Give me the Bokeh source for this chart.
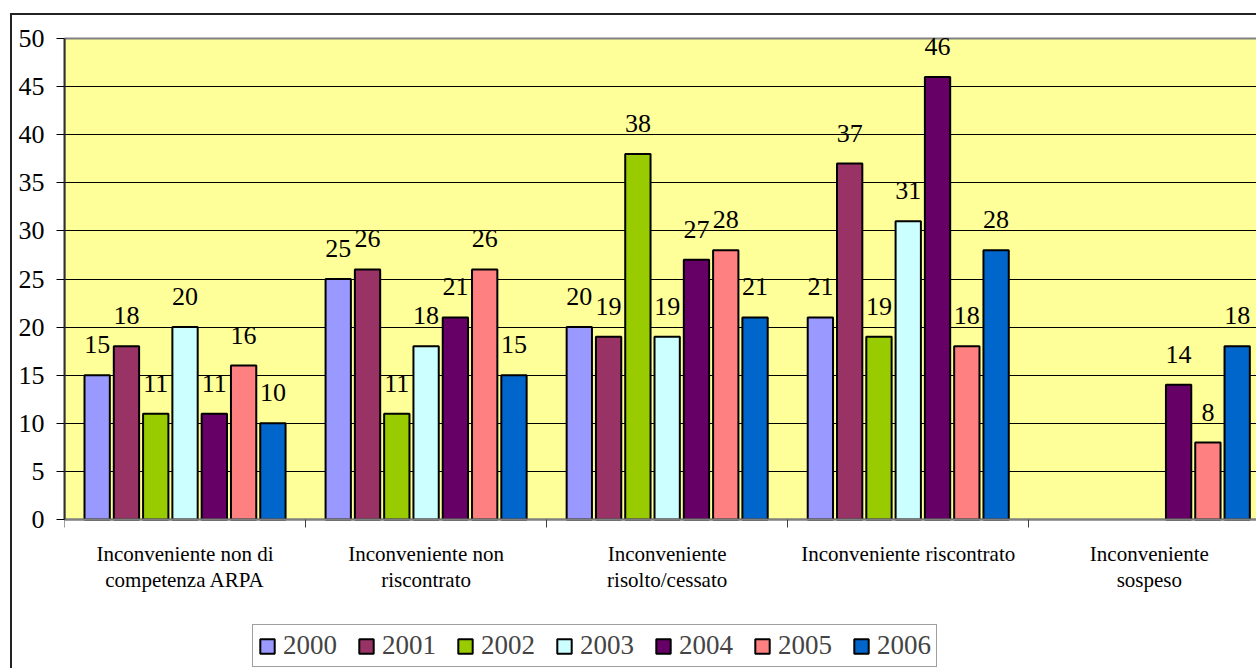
import math
from bokeh.plotting import figure
from bokeh.models import (Range1d, FixedTicker, Legend, LegendItem, LabelSet,
                          ColumnDataSource)
from bokeh.core.properties import value
from bokeh.embed import file_html
from bokeh.resources import INLINE

# ---------------- data ----------------
category_labels = [
    "Inconveniente non di\ncompetenza ARPA",
    "Inconveniente non\nriscontrato",
    "Inconveniente\nrisolto/cessato",
    "Inconveniente riscontrato",
    "Inconveniente\nsospeso",
]
years = ["2000", "2001", "2002", "2003", "2004", "2005", "2006"]
nan = float("nan")
v2000 = [15, 25, 20, 21, nan]
v2001 = [18, 26, 19, 37, nan]
v2002 = [11, 11, 38, 19, nan]
v2003 = [20, 18, 19, 31, nan]
v2004 = [11, 21, 27, 46, 14]
v2005 = [16, 26, 28, 18, 8]
v2006 = [10, 15, 21, 28, 18]
series = [v2000, v2001, v2002, v2003, v2004, v2005, v2006]
colors = ["#9999FF", "#993366", "#99CC00", "#CCFFFF", "#660066", "#FF8080", "#0066CC"]
y_ticks = [0, 5, 10, 15, 20, 25, 30, 35, 40, 45, 50]

FONT = "'Liberation Serif'"

# ---------------- geometry (pixels) ----------------
W, H = 1256, 668
plot_left, plot_top, plot_bottom = 64, 38, 519     # yellow plot area in page pixels
cat_px = 241.07                                   # width of one category
frame_top = 20
ppu = (plot_bottom - plot_top) / (y_ticks[-1] - y_ticks[0])
y_hi = y_ticks[-1] + (plot_top - frame_top) / ppu
y_lo = y_ticks[0] - (H - plot_bottom) / ppu
x_hi = (W - plot_left) / cat_px

p = figure(width=W, height=H, output_backend="svg", toolbar_location=None,
           x_range=Range1d(0, x_hi), y_range=Range1d(y_lo, y_hi),
           x_axis_location="above",
           min_border_left=plot_left, min_border_right=0,
           min_border_top=frame_top, min_border_bottom=0)
p.background_fill_color = "white"
p.border_fill_alpha = 0
p.outline_line_color = None
p.styles = {
    "background": "linear-gradient(#222,#222) 10px 13px / 2px 100% no-repeat, "
                  "linear-gradient(#222,#222) 10px 13px / 100% 2px no-repeat, white"
}

# yellow plot area
n = len(category_labels)
area = p.quad(left=0, right=n + 1, bottom=y_ticks[0], top=y_ticks[-1],
              fill_color="#FFFF99", line_color="#808080", line_width=2)
area.level = "image"

p.xgrid.visible = False
p.ygrid.grid_line_color = "black"
p.ygrid.grid_line_width = 1
p.ygrid.ticker = FixedTicker(ticks=y_ticks[1:-1])

p.yaxis.ticker = FixedTicker(ticks=y_ticks)
p.yaxis.bounds = (y_ticks[0], y_ticks[-1])
p.yaxis.minor_tick_line_color = None
p.yaxis.major_tick_in = 0
p.yaxis.major_tick_out = 8
p.yaxis.major_tick_line_color = "black"
p.yaxis.axis_line_color = "#303030"
p.yaxis.axis_line_width = 2
p.yaxis.major_label_text_font = FONT
p.yaxis.major_label_text_font_size = "26px"
p.yaxis.major_label_text_color = "black"
p.yaxis.major_label_standoff = 12

p.xaxis.fixed_location = 0
p.xaxis.ticker = FixedTicker(ticks=list(range(n + 1)))
p.xaxis.major_label_overrides = {i: " " for i in range(n + 1)}
p.xaxis.minor_tick_line_color = None
p.xaxis.major_tick_in = 8
p.xaxis.major_tick_out = 0
p.xaxis.major_tick_line_color = "#404040"
p.xaxis.axis_line_color = "#808080"
p.xaxis.axis_line_width = 2
p.xaxis.major_label_text_font_size = "1px"
p.xaxis.major_label_standoff = 0

# category labels (one text per line)
cx, cy, ct, coff = [], [], [], []
for c, lab in enumerate(category_labels):
    for k, line in enumerate(lab.split("\n")):
        cx.append(c + 0.5)
        cy.append(0)
        ct.append(line)
        coff.append(34 + 26.5 * k)
p.text(x=cx, y=cy, text=ct, y_offset=coff, text_align="center",
       text_baseline="alphabetic", text_font=value(FONT), text_font_size="21px",
       text_color="black")

# bars
pitch = 0.1215
bar_w = 0.105
items = []
lab_x, lab_y, lab_t = [], [], []
for i, (yr, vals, col) in enumerate(zip(years, series, colors)):
    xs, tops = [], []
    for c, v in enumerate(vals):
        if v is None or (isinstance(v, float) and math.isnan(v)):
            continue
        x = c + 0.5 + (i - 3) * pitch
        xs.append(x)
        tops.append(v)
        lab_x.append(x)
        lab_y.append(v)
        lab_t.append(str(int(v)))
    r = p.vbar(x=xs, top=tops, bottom=0, width=bar_w, fill_color=col,
               line_color="black", line_width=2)
    items.append(LegendItem(label=yr, renderers=[r]))

labels = LabelSet(source=ColumnDataSource(dict(x=lab_x, y=lab_y, t=lab_t)),
                  x="x", y="y", text="t", y_offset=22, text_align="center",
                  text_baseline="alphabetic", text_font=value(FONT),
                  text_font_size=value("26px"), text_color="black")
p.add_layout(labels)

legend = Legend(items=items, orientation="horizontal", location=(188, 1),
                glyph_width=18, glyph_height=18, label_standoff=7, spacing=20,
                padding=5, margin=0, border_line_color="#404040", border_line_width=1,
                label_text_font=FONT, label_text_font_size="27px",
                background_fill_color="white", background_fill_alpha=1.0)
p.add_layout(legend)

open("out.html", "w").write(file_html(p, INLINE))
